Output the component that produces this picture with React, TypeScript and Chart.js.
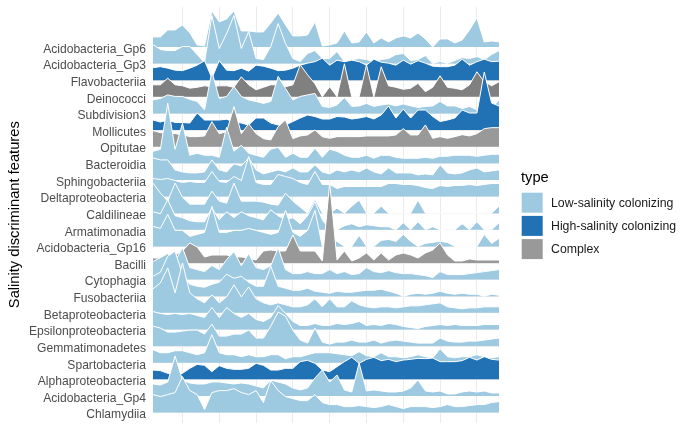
import React, { useEffect, useRef } from "react";
import { Chart, registerables } from "chart.js";

Chart.register(...registerables);

// Categories from top to bottom
const categories = [
  "Acidobacteria_Gp6", "Acidobacteria_Gp3", "Flavobacteriia", "Deinococci", "Subdivision3",
  "Mollicutes", "Opitutae", "Bacteroidia", "Sphingobacteriia", "Deltaproteobacteria",
  "Caldilineae", "Armatimonadia", "Acidobacteria_Gp16", "Bacilli", "Cytophagia",
  "Fusobacteriia", "Betaproteobacteria", "Epsilonproteobacteria", "Gemmatimonadetes",
  "Spartobacteria", "Alphaproteobacteria", "Acidobacteria_Gp4", "Chlamydiia",
];

const types = [
  "Low-salinity colonizing", "Low-salinity colonizing", "High-salinity colonizing", "Complex",
  "Low-salinity colonizing", "High-salinity colonizing", "Complex", "Low-salinity colonizing",
  "Low-salinity colonizing", "Low-salinity colonizing", "Low-salinity colonizing",
  "Low-salinity colonizing", "Low-salinity colonizing", "Complex", "Low-salinity colonizing",
  "Low-salinity colonizing", "Low-salinity colonizing", "Low-salinity colonizing",
  "Low-salinity colonizing", "Low-salinity colonizing", "High-salinity colonizing",
  "Low-salinity colonizing", "Low-salinity colonizing",
];

const legendTypes = ["Low-salinity colonizing", "High-salinity colonizing", "Complex"];

const samples = [
  1, 2, 3, 4, 5, 6, 7, 8, 9, 10, 11, 12, 13, 14, 15, 16, 17, 18, 19, 20, 21, 22, 23, 24,
  25, 26, 27, 28, 29, 30, 31, 32, 33, 34, 35, 36, 37, 38, 39, 40, 41, 42, 43, 44, 45, 46, 47, 48,
];

const xGridTicks = [5, 10, 15, 20, 25, 30, 35, 40, 45];

// Relative abundance per sample (ridge heights)
const gp6 = [10,10,17,17,22,14,2,1,36,25,28,36,16,16,15,15, 24,34,22,11,11,12,25,1,2,4,16,4,5,15,4,9, 5,9,11,9,14,8,0,8,8,4,7,17,29,5,6,5];
const gp3 = [19,14,13,13,17,17,9,1,48,15,30,48,15,32,5,4, 17,40,20,5,2,10,13,5,5,12,2,4,5,4,2,4, 5,9,10,3,4,8,0,2,0,3,6,5,7,4,9,13];
const flavobacteriia = [12.5,13.5,12,10,9.5,12,15,19.5,2,19.5,10,9.5,12,9,15,14, 12,9.5,10,12,15,17,18.5,22,15,20,18.5,20,18.5,15,21,18, 17,15,20,16,19.5,17,14,13.5,13.5,15,21,15,18.5,21,18.5,19];
const deinococci = [12,12,18.6,12,11,8.6,9.5,11,10,11,11,9.5,20,12,7,9.5, 12,12,10,12,32,22,13,0,10,0,33,0,0,32,0,30, 11,9.5,7.5,8.5,13.5,5,9.5,21,9.5,8.5,7,12,25,15,11,15];
const subdivision3 = [13.5,15,18.5,17,17,14,12,3.5,42,15,17,27,17,13.5,12,10, 12,37,25,13.5,17,18.5,20,7,6,8.5,16,7,7.5,10,7,8.5, 9.5,7.5,9.5,7.5,6,7,7.5,12,7.5,7.5,5,7,3.5,7.5,5,13.5];
const mollicutes = [10,8,10,7.5,7.5,7,17,10,10,10,10.8,8,7,5,12,12, 7,5,5,8.5,12,15,13.5,11,11,13.5,13,11,12,13.5,11,15, 24,12,21,12,20,20,13.5,8.5,10,12,20,17,17,58,27,24];
const opitutae = [16,14,14,13,12,10,10,10.7,25,13,15,40,13,23,13,8, 6.7,20,26.7,8,10.7,11.7,16.7,10,8.3,10,10,10,10,10.7,10.7,10.7, 10.7,11.7,18,11.7,11.7,21.7,8.3,10,8.3,10,12,10.7,13,18,19,19];
const bacteroidia = [12,14,60,14,40,8,10,8,8,6,36,12,18,10,8,6, 14,16,6,10,6,6,15,6,14,12,8,6,6,8,5,8, 8,6,5,5,5,6,5,7,7,8,8,8,7,8,9,9];
const sphingobacteriia = [22,20,20,10,8,7,7,8,20,10,8,16,14,22,10,6, 8,10,8,12,8,8,15,8,6,10,8,10,8,12,8,6, 12,7,7,7,5,6,5,15,7,6,7,10,12,8,9,10];
const deltaproteobacteria = [18,17,18,16,14,15,14,14,25,15,14,20,16,40,14,12, 12,22,20,18,14,12,25,12,12,8,10,10,10,10,10,10, 13,13,12,12,11,9,8,11,10,11,11,12,11,12,13,13];
const caldilineae = [30,20,12,30,16,9,9,9,22,12,10,30,12,12,12,11, 9,8,20,12,6,0,14,0,0,5,0,7,13,0,0,7, 0,0,0,0,13,0,0,0,0,0,0,0,0,0,0,7];
const armatimonadia = [18,16,30,14,12,9,8,8,22,10,18,12,18,14,12,10, 20,14,10,12,6,14,28,10,0,0,4,6,3,5,4,3, 3,0,7,0,8,0,3,0,0,0,6,0,8,0,0,7];
const gp16 = [20,18,32,16,16,10,12,14,40,14,14,16,16,18,16,14, 12,14,36,14,10,16,36,0,8,5,0,0,11,0,0,6, 7,5,12,5,0,3,4,5,4,0,0,0,0,12,3,8];
const bacilli = [5,5,5,8,12,20,16,6,8,8,8,6,6,5,3,12, 13,12,12,28,12,12,12,2,80,3,12,2,5,10,3,10, 3,8,10,8,5,10,13,20,8,2,2,4,3,3,3,3];
const cytophagia = [18,22,26,18,32,12,10,8,14,10,20,28,14,26,12,10, 14,32,10,6,6,8,6,6,10,6,8,5,6,12,8,7, 9,7,6,6,5,4,2,8,5,5,5,6,7,8,9,10];
const fusobacteriia = [20,24,40,45,22,12,10,9,12,14,22,18,20,14,10,10, 30,10,8,6,6,8,5,4,3,5,4,4,5,6,6,7, 5,3,0,2,3,2,3,5,3,2,3,2,2,0,2,1];
const betaproteobacteria = [24,30,45,20,50,20,14,10,18,10,16,28,16,26,14,10, 8,10,8,6,6,8,14,6,14,6,6,12,8,6,5,6, 6,5,6,7,7,8,9,10,6,5,4,5,5,6,6,6];
const epsilonproteobacteria = [18,16,15,16,15,16,14,12,22,12,22,16,12,16,10,8, 12,24,16,8,4,4,6,4,4,6,5,6,8,4,5,4, 6,5,3,2,1,3,4,5,4,5,4,4,4,5,5,5];
const gemmatimonadetes = [20,18,14,14,15,16,16,12,22,10,10,12,12,16,8,8, 20,34,30,16,6,3,18,4,2,4,4,6,4,4,6,3, 5,6,5,4,3,3,3,8,5,4,4,5,5,6,7,8];
const spartobacteria = [13,10,10,12,12,10,8,10,28,10,8,8,6,8,6,6, 8,8,4,6,6,8,10,10,10,9,8,7,11,7,6,10, 6,6,5,6,8,6,5,14,6,5,6,6,8,6,5,6];
const alphaproteobacteria = [9.3,8.7,6,5,6,11,15,14,7.7,13.7,11,10,10,11,16,14, 9.3,9.3,11,11,17.7,19,16,9.3,7.7,12.7,17.7,22,16,20,22,18.7, 20,17.7,19.3,20,21,20.7,21.3,17.7,17.7,17.7,18.7,22,19.3,22.7,20,19.3];
const gp4 = [12,11,14,40,16,13,12,12,14,14,13,12,13,12,10,8, 16,14,12,8,6,8,18,26,14,21,6,4,33,5,6,5, 4,4,5,8,16,5,4,5,2,2,4,5,4,5,3,3];
const chlamydiia = [18,16,18,20,36,22,18,3,20,22,22,24,20,18,22,10, 32,22,16,14,12,12,18,10,8,8,6,6,7,6,5,6, 8,6,4,6,6,6,5,6,8,6,6,7,8,8,10,11];

const ridgeValues = [
  gp6, gp3, flavobacteriia, deinococci, subdivision3, mollicutes, opitutae, bacteroidia,
  sphingobacteriia, deltaproteobacteria, caldilineae, armatimonadia, gp16, bacilli, cytophagia,
  fusobacteriia, betaproteobacteria, epsilonproteobacteria, gemmatimonadetes, spartobacteria,
  alphaproteobacteria, gp4, chlamydiia,
];

const typeColors: Record<string, string> = {
  "Low-salinity colonizing": "#9ecae1",
  "High-salinity colonizing": "#2171b5",
  Complex: "#999999",
};
const fillOverride: Record<string, string> = { Deinococci: "#808080" };

const HEIGHT_PER_ROW = 16.62;
const FONT = '"Liberation Sans", Arial, Helvetica, sans-serif';

const legendPlugin = {
  id: "ridgeLegend",
  afterDraw(chart: any) {
    const ctx = chart.ctx as CanvasRenderingContext2D;
    ctx.save();
    ctx.fillStyle = "#000000";
    ctx.font = `14.7px ${FONT}`;
    ctx.textBaseline = "alphabetic";
    ctx.textAlign = "left";
    ctx.fillText("type", 521, 181.5);
    legendTypes.forEach((t, i) => {
      const top = 192.7 + i * 23.2;
      ctx.fillStyle = typeColors[t];
      ctx.fillRect(521.7, top, 21, 20);
      ctx.fillStyle = "#1a1a1a";
      ctx.font = `12.3px ${FONT}`;
      ctx.textBaseline = "middle";
      ctx.fillText(t, 551, top + 10.5);
    });
    ctx.restore();
  },
};

export default function App() {
  const canvasRef = useRef<HTMLCanvasElement | null>(null);

  useEffect(() => {
    if (!canvasRef.current) return;
    const n = categories.length;
    const datasets = categories.map((name, i) => {
      const base = n - 1 - i;
      const vals = ridgeValues[i];
      return {
        label: name,
        data: samples.map((x, j) => ({ x, y: base + vals[j] / HEIGHT_PER_ROW })),
        fill: { value: base },
        backgroundColor: fillOverride[name] || typeColors[types[i]],
        borderColor: "#ffffff",
        borderWidth: 1,
        pointRadius: 0,
        tension: 0,
        order: base,
      };
    });

    const chart = new Chart(canvasRef.current, {
      type: "line",
      data: { datasets: datasets as any },
      plugins: [legendPlugin],
      options: {
        responsive: false,
        maintainAspectRatio: false,
        animation: false,
        events: [],
        layout: { padding: { top: 6.7, right: 193, bottom: 0, left: 0 } },
        plugins: { legend: { display: false }, tooltip: { enabled: false } },
        scales: {
          x: {
            type: "linear",
            min: 1,
            max: 48,
            afterBuildTicks: (s: any) => {
              s.ticks = xGridTicks.map((v) => ({ value: v }));
            },
            afterFit: (s: any) => {
              s.height = 11.3;
              s.paddingLeft = 0;
              s.paddingRight = 0;
            },
            ticks: { display: false },
            grid: { color: "#ebebeb", lineWidth: 1, drawTicks: false },
            border: { display: false },
          },
          y: {
            type: "linear",
            min: -0.608,
            max: 24.42,
            afterBuildTicks: (s: any) => {
              s.ticks = categories.map((_, i) => ({ value: i }));
            },
            afterFit: (s: any) => {
              s.width = 153;
              s.paddingTop = 0;
              s.paddingBottom = 0;
            },
            ticks: {
              autoSkip: false,
              padding: 7,
              labelOffset: 2.5,
              color: "#4d4d4d",
              font: { family: FONT, size: 12.1 },
              callback: (v: any) => categories[n - 1 - Number(v)],
            },
            grid: { color: "#ebebeb", lineWidth: 1, drawTicks: false },
            border: { display: false },
            title: {
              display: true,
              text: "Salinity discriminant features",
              color: "#000000",
              font: { family: FONT, size: 14.7 },
              padding: { top: 6, bottom: 0 },
            },
          },
        },
      } as any,
    });
    return () => chart.destroy();
  }, []);

  return (
    <div style={{ position: "absolute", left: 0, top: 0, width: 692, height: 434, background: "#ffffff" }}>
      <canvas ref={canvasRef} width={692} height={434} style={{ display: "block" }} />
    </div>
  );
}
